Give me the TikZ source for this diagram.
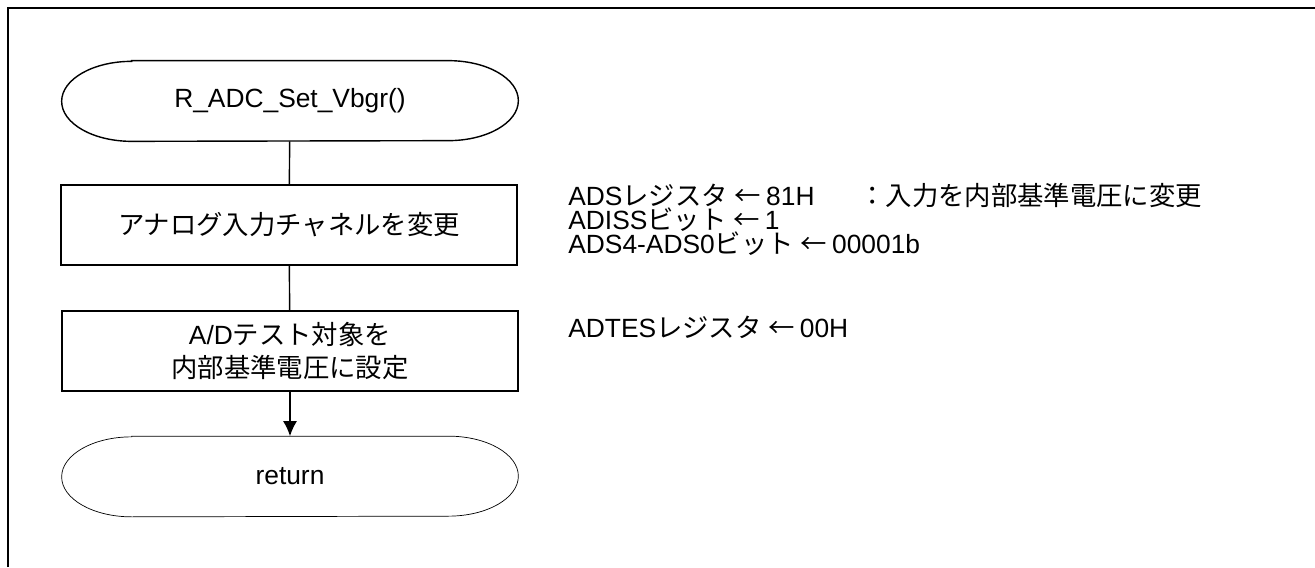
\documentclass[tikz,border=0pt]{standalone}
\usepackage{fontspec}
\setmainfont{Liberation Sans}
\newfontfamily\jp{Noto Sans CJK JP}
\usetikzlibrary{arrows.meta}

% outline of a start/end terminal round node #2
\newcommand{\termline}[2][thick]{%
	\draw[#1] ([xshift=1.4cm]#2.north west) -- ([xshift=-1.4cm]#2.north east)
		arc[start angle=90,end angle=-90,x radius=1.4cm,y radius=0.8cm]
		-- ([xshift=1.4cm]#2.south west)
		arc[start angle=270,end angle=90,x radius=1.4cm,y radius=0.8cm] -- cycle;}
\newcommand{\setto}{\hspace{0.25em}{\jp ←}\hspace{0.2em}}

\begin{document}
\begin{tikzpicture}[>={Latex[length=3mm,width=2.8mm]},font=\fontsize{15pt}{18.7pt}\selectfont]
	\tikzstyle{term}=[minimum width=9.12cm,minimum height=1.6cm,inner sep=0pt]
	\tikzstyle{proc}=[draw,thick,minimum width=9.12cm,minimum height=1.6cm,inner sep=0pt,align=center]
	\tikzstyle{note}=[anchor=base west,inner sep=0pt]
	\useasboundingbox (0,0) rectangle (26.3,11.34);
	\draw[line width=1.1pt] (0.16,0) -- (0.16,11.18) -- (26.3,11.18);

	\node[term](start) at (5.8,9.32){R\_ADC\_Set\_Vbgr()};
	\node[proc](chg) at (5.78,6.84){{\jp アナログ入力チャネルを変更}};
	\node[proc](tst) at (5.8,4.32){A/D{\jp テスト対象を}\\{\jp 内部基準電圧に設定}};
	\node[term](ret) at (5.8,1.81){\raisebox{-1.5pt}{return}};
	\termline{start}
	\termline[thin]{ret}

	\draw[thick] (start) -- (chg);
	\draw[thick] (chg) -- (tst);
	\draw[->,thick] (tst) -- (ret);

	\node[note](n-1) at (11.36,7.22){ADS{\jp レジスタ}\setto 81H};
	\node[note](n-c) at (17.18,7.22){{\jp ：入力を内部基準電圧に変更}};
	\node[note](n-2) at (11.36,6.74){ADISS{\jp ビット}\setto 1};
	\node[note](n-3) at (11.36,6.26){ADS4-ADS0{\jp ビット}\setto 00001b};
	\node[note](n-4) at (11.36,4.6){ADTES{\jp レジスタ}\setto 00H};
\end{tikzpicture}
\end{document}
